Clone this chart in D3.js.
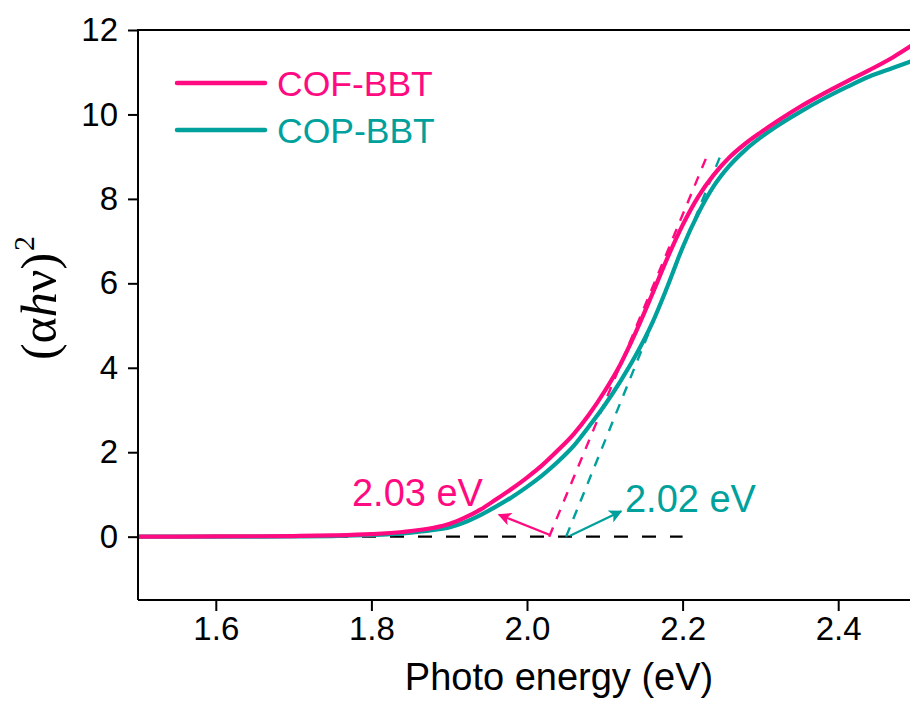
<!DOCTYPE html>
<html>
<head>
<meta charset="utf-8">
<script src="https://cdn.jsdelivr.net/npm/d3@7"></script>
<style>
  html, body { margin: 0; padding: 0; background: #fff; }
  svg { display: block; font-family: "Liberation Sans", Arial, sans-serif; }
</style>
</head>
<body>
<svg id="chart" width="910" height="704"></svg>
<script>
// Tauc plot data: photon energy (eV) vs (αhν)^2
const energyCOF = [1.50, 1.60, 1.70, 1.75, 1.80, 1.84, 1.88, 1.90, 1.92, 1.94, 1.96, 1.98, 2.00, 2.02, 2.04, 2.06, 2.08, 2.10, 2.12, 2.14, 2.16, 2.18, 2.20, 2.22, 2.24, 2.26, 2.28, 2.30, 2.32, 2.35, 2.38, 2.41, 2.44, 2.47, 2.50];
const valueCOF  = [0.00, 0.005, 0.015, 0.03, 0.06, 0.11, 0.21, 0.30, 0.45, 0.64, 0.88, 1.13, 1.40, 1.70, 2.05, 2.43, 2.90, 3.45, 4.08, 4.85, 5.70, 6.58, 7.38, 8.05, 8.57, 8.98, 9.30, 9.57, 9.82, 10.17, 10.48, 10.77, 11.05, 11.35, 11.70];

const energyCOP = [1.50, 1.60, 1.70, 1.75, 1.80, 1.84, 1.88, 1.90, 1.92, 1.94, 1.96, 1.98, 2.00, 2.02, 2.04, 2.06, 2.08, 2.10, 2.12, 2.14, 2.16, 2.18, 2.20, 2.22, 2.24, 2.26, 2.28, 2.30, 2.32, 2.35, 2.38, 2.41, 2.44, 2.47, 2.50];
const valueCOP  = [0.00, 0.00, 0.005, 0.015, 0.04, 0.08, 0.16, 0.22, 0.34, 0.51, 0.71, 0.93, 1.18, 1.46, 1.78, 2.15, 2.62, 3.12, 3.68, 4.30, 5.02, 5.90, 6.85, 7.65, 8.30, 8.78, 9.15, 9.45, 9.71, 10.05, 10.36, 10.64, 10.90, 11.10, 11.30];

const seriesNames  = ["COF-BBT", "COP-BBT"];
const seriesColors = ["#ff0a80", "#00a19c"];

// Linear-fit tangents [E, value] endpoints
const tangentCOF = [[2.0285, 0.0], [2.2314, 9.02]];
const tangentCOP = [[2.0503, 0.0], [2.2490, 9.04]];

// Band-gap annotations: arrow tail, arrow head, label anchor
const gapLabels   = ["2.03 eV", "2.02 eV"];
const arrowTails  = [[2.0296, 0.04], [2.0553, 0.02]];
const arrowHeads  = [[1.9640, 0.52], [2.1210, 0.60]];
const labelAnchor = [[1.775, 0.735], [2.1259, 0.58]];

// Zero baseline extent
const baselineRange = [1.5, 2.2];

const xTicks = [1.6, 1.8, 2.0, 2.2, 2.4];
const yTicks = [0, 2, 4, 6, 8, 10, 12];

const svg = d3.select("#chart");

const x = d3.scaleLinear().domain([1.5, 2.5]).range([138, 916]);
const y = d3.scaleLinear().domain([-1.5, 12]).range([600, 30]);

// Arrow markers
const defs = svg.append("defs");
seriesColors.forEach((c, i) => {
  defs.append("marker")
    .attr("id", "arrow" + i)
    .attr("viewBox", "0 0 10 10")
    .attr("refX", 9).attr("refY", 5)
    .attr("markerWidth", 8).attr("markerHeight", 6)
    .attr("markerUnits", "strokeWidth")
    .attr("orient", "auto")
    .append("path")
    .attr("d", "M0,0 L10,5 L0,10 L2.5,5 Z")
    .attr("fill", c);
});

// Dashed zero line
svg.append("line")
  .attr("x1", x(baselineRange[0])).attr("x2", x(baselineRange[1]))
  .attr("y1", y(0)).attr("y2", y(0))
  .attr("stroke", "#000").attr("stroke-width", 2.2)
  .attr("stroke-dasharray", "14,14");

// Tangent lines
[tangentCOF, tangentCOP].forEach((t, i) => {
  svg.append("line")
    .attr("x1", x(t[0][0])).attr("y1", y(t[0][1]))
    .attr("x2", x(t[1][0])).attr("y2", y(t[1][1]))
    .attr("stroke", seriesColors[i]).attr("stroke-width", 2.4)
    .attr("stroke-dasharray", "10,9");
});

// Curves
const line = d3.line()
  .x(d => x(d[0])).y(d => y(d[1]))
  .curve(d3.curveMonotoneX);

const curves = [
  d3.zip(energyCOF, valueCOF),
  d3.zip(energyCOP, valueCOP)
];
// draw teal first so pink sits on top where they overlap
[1, 0].forEach(i => {
  svg.append("path")
    .datum(curves[i])
    .attr("d", line)
    .attr("fill", "none")
    .attr("stroke", seriesColors[i])
    .attr("stroke-width", 4.2)
    .attr("stroke-linejoin", "round");
});

// Arrows and labels
arrowTails.forEach((t, i) => {
  svg.append("line")
    .attr("x1", x(t[0])).attr("y1", y(t[1]))
    .attr("x2", x(arrowHeads[i][0])).attr("y2", y(arrowHeads[i][1]))
    .attr("stroke", seriesColors[i]).attr("stroke-width", 2.2)
    .attr("marker-end", "url(#arrow" + i + ")");
  svg.append("text")
    .attr("x", x(labelAnchor[i][0])).attr("y", y(labelAnchor[i][1]))
    .attr("fill", seriesColors[i])
    .attr("font-size", 38)
    .text(gapLabels[i]);
});

// Axes
const xAxis = svg.append("g")
  .attr("transform", "translate(0,600)")
  .call(d3.axisBottom(x).tickValues(xTicks).tickFormat(d3.format(".1f")).tickSizeOuter(0).tickSize(11).tickPadding(6));
const yAxis = svg.append("g")
  .attr("transform", "translate(138,0)")
  .call(d3.axisLeft(y).tickValues(yTicks).tickFormat(d3.format("d")).tickSizeOuter(0).tickSize(10).tickPadding(10));

[xAxis, yAxis].forEach(g => {
  g.select(".domain").attr("stroke", "#000").attr("stroke-width", 2);
  g.selectAll(".tick line").attr("stroke", "#000").attr("stroke-width", 2);
  g.selectAll(".tick text").attr("fill", "#000").attr("font-size", 33)
    .attr("font-family", "'Liberation Sans', Arial, sans-serif");
});
xAxis.select(".domain").attr("d", "M138,0H916");
yAxis.select(".domain").attr("d", "M0,30V600");

// Top frame line
svg.append("line")
  .attr("x1", 137).attr("x2", 916)
  .attr("y1", 30).attr("y2", 30)
  .attr("stroke", "#000").attr("stroke-width", 2);

// Axis titles
svg.append("text")
  .attr("x", 559).attr("y", 690)
  .attr("text-anchor", "middle")
  .attr("font-size", 38)
  .attr("fill", "#000")
  .text("Photo energy (eV)");

const yTitle = svg.append("text")
  .attr("transform", "translate(56,298) rotate(-90)")
  .attr("text-anchor", "middle")
  .attr("font-family", "'Liberation Serif', 'Times New Roman', serif")
  .attr("font-size", 50)
  .attr("fill", "#000");
yTitle.append("tspan").text("(α");
yTitle.append("tspan").attr("font-style", "italic").text("h");
yTitle.append("tspan").text("ν)");
yTitle.append("tspan").attr("font-size", 30).attr("dy", -22).attr("dx", 2).text("2");

// Legend
const legend = svg.append("g");
seriesNames.forEach((name, i) => {
  const ly = 83 + i * 47;
  legend.append("line")
    .attr("x1", 177).attr("x2", 265)
    .attr("y1", ly).attr("y2", ly)
    .attr("stroke", seriesColors[i]).attr("stroke-width", 4.5)
    .attr("stroke-linecap", "round");
  legend.append("text")
    .attr("x", 277).attr("y", ly + 12.5)
    .attr("fill", seriesColors[i])
    .attr("font-size", 35.5)
    .text(name);
});
</script>
</body>
</html>
